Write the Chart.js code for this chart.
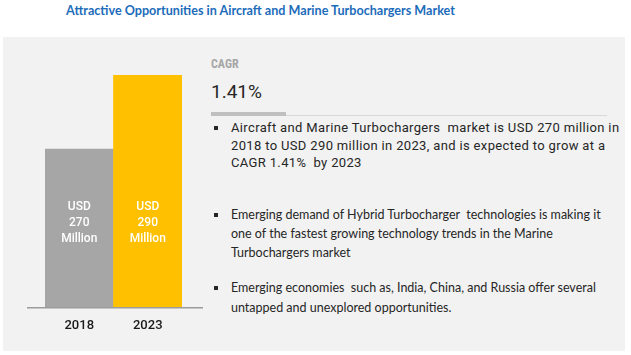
<!DOCTYPE html>
<html>
<head>
<meta charset="utf-8">
<script src="https://cdn.jsdelivr.net/npm/chart.js@4"></script>
<style>
  html, body { margin:0; padding:0; width:631px; height:355px; background:#ffffff; overflow:hidden; }
  #title { position:absolute; left:0; top:3px; width:521px; text-align:center; font-family:Lato, "Open Sans", sans-serif; font-weight:bold; font-size:12.6px; color:#1c6cba; white-space:nowrap; line-height:16px; }
  #panel { position:absolute; left:3px; top:37px; width:622px; height:314px; background:#f2f2f2; }
  #chartWrap { position:absolute; left:0; top:37px; width:205px; height:314px; }
  .t { position:absolute; white-space:nowrap; }
  #cagrLbl { left:211px; top:57px; font-family:"Roboto Condensed","Liberation Sans Narrow","DejaVu Sans Condensed",Roboto,sans-serif; font-weight:bold; font-size:12px; color:#a6a6a6; }
  #cagrVal { left:211px; top:80px; font-family:Roboto,sans-serif; font-size:19px; color:#262626; }
  #sepThick { position:absolute; left:211px; top:112px; width:75px; height:4px; background:#bfbfbf; }
  #sepThin { position:absolute; left:286px; top:115px; width:321px; height:1px; background:#d9d9d9; }
  .b1 { font-family:Roboto, "Liberation Sans", sans-serif; font-size:13px; letter-spacing:0.35px; color:#262626; line-height:17.5px; }
  .b2 { font-family:Lato, "Open Sans", sans-serif; font-size:12.5px; color:#262626; }
  .sq { position:absolute; width:4px; height:4px; background:#262626; }
</style>
</head>
<body>
<div id="title">Attractive Opportunities in Aircraft and Marine Turbochargers Market</div>
<div id="panel"></div>
<div id="chartWrap"><canvas id="c" width="205" height="314"></canvas></div>

<div class="t" id="cagrLbl">CAGR</div>
<div class="t" id="cagrVal">1.41%</div>
<div id="sepThick"></div>
<div id="sepThin"></div>

<div class="sq" style="left:214px; top:126px;"></div>
<div class="t b1" style="left:231px; top:119px;">Aircraft and Marine Turbochargers&nbsp; market is USD 270 million in<br>2018 to USD 290 million in 2023, and is expected to grow at a<br>CAGR 1.41%&nbsp; by 2023</div>

<div class="sq" style="left:214px; top:213px;"></div>
<div class="t b2" style="left:231px; top:205px; line-height:19px;">Emerging demand of Hybrid Turbocharger&nbsp; technologies is making it<br>one of the fastest growing technology trends in the Marine<br>Turbochargers market</div>

<div class="sq" style="left:214px; top:286px;"></div>
<div class="t b2" style="left:231px; top:278px; line-height:20px;">Emerging economies&nbsp; such as, India, China, and Russia offer several<br>untapped and unexplored opportunities.</div>

<script>
const categories = ['2018', '2023'];
const values = [270, 290];
const barColors = ['#a6a6a6', '#ffc000'];
const unitPrefix = 'USD';
const unitSuffix = 'Million';

const labelPlugin = {
  id: 'barText',
  afterDraw(chart) {
    const ctx = chart.ctx;
    const a = chart.chartArea;
    const meta = chart.getDatasetMeta(0);
    ctx.save();
    // baseline
    ctx.fillStyle = '#9c9c9c';
    ctx.fillRect(Math.round(a.left) - 18, Math.round(a.bottom), 176, 1.5);
    // bar texts
    ctx.fillStyle = '#ffffff';
    ctx.textAlign = 'center';
    ctx.textBaseline = 'middle';
    ctx.font = '500 12px Roboto, sans-serif';
    for (let i = 0; i < meta.data.length; i++) {
      const x = meta.data[i].x;
      const lines = [unitPrefix, String(values[i]), unitSuffix];
      for (let k = 0; k < lines.length; k++) {
        ctx.fillText(lines[k], x, a.bottom - 100 + k * 16);
      }
    }
    ctx.restore();
  }
};

new Chart(document.getElementById('c'), {
  type: 'bar',
  data: {
    labels: categories,
    datasets: [{
      data: values,
      backgroundColor: barColors,
      borderWidth: 0,
      barPercentage: 1,
      categoryPercentage: 1
    }]
  },
  options: {
    responsive: false,
    animation: false,
    events: [],
    layout: { padding: { left: 45, right: 23, top: 38, bottom: 0 } },
    plugins: { legend: { display: false }, tooltip: { enabled: false }, title: { display: false } },
    scales: {
      x: {
        grid: { display: false },
        border: { display: false },
        afterFit(scale) { scale.height = 44; },
        ticks: { color: '#1a1a1a', font: { family: 'Roboto, "Liberation Sans", sans-serif', size: 13, weight: '500' }, padding: 3 }
      },
      y: {
        display: false,
        min: 227.3,
        max: 290
      }
    }
  },
  plugins: [labelPlugin]
});
</script>
</body>
</html>
